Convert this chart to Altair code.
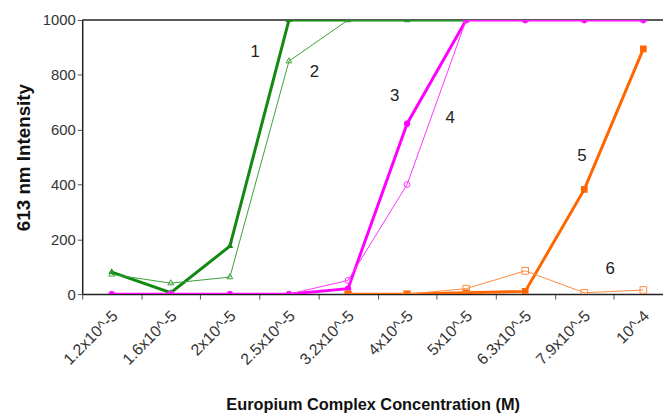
import altair as alt
import pandas as pd

labels = ["1.2x10^-5", "1.6x10^-5", "2x10^-5", "2.5x10^-5", "3.2x10^-5",
          "4x10^-5", "5x10^-5", "6.3x10^-5", "7.9x10^-5", "10^-4"]

s1 = [80, 5, 175, 1000, 1000, 1000, 1000]
s2 = [72, 40, 62, 850, 1000, 1000, 1000, 1000]
s3 = [0, 0, 0, 0, 20, 622, 1000, 1000, 1000, 1000]
s4 = [0, 0, 0, 0, 50, 400, 1000, 1000, 1000, 1000]
s5_start = 4
s5 = [0, 0, 5, 10, 382, 895]
s6 = [0, 0, 20, 85, 5, 15]

ann_text = ["1", "2", "3", "4", "5", "6"]
ann_x = [2.43, 3.43, 4.79, 5.73, 7.96, 8.44]
ann_y = [884, 812, 722, 643, 505, 90]

series = [
    ("1", s1, 0, "#128a12", 3, "triangle", True, 45),
    ("2", s2, 0, "#3aa03a", 1, "triangle", False, 35),
    ("3", s3, 0, "#ff00ff", 3, "circle", True, 40),
    ("4", s4, 0, "#ff33ff", 1, "circle", False, 35),
    ("5", s5, s5_start, "#ff6600", 3, "square", True, 45),
    ("6", s6, s5_start, "#ff8a3d", 1, "square", False, 45),
]

W = 587
H = 277
band = 59.7
xmax = -0.5 + W / band

xscale = alt.Scale(domain=[-0.5, xmax], nice=False, zero=False)
yscale = alt.Scale(domain=[0, 1000], nice=False)

label_js = "[" + ",".join("'" + l + "'" for l in labels) + "]"
xaxis = alt.Axis(
    values=[i - 0.5 for i in range(10)],
    labelExpr=label_js + "[round(datum.value + 0.5)] || ''",
    labelOffset=band / 2 + 3,
    labelAngle=-45,
    labelAlign="right",
    labelBaseline="middle",
    labelFontSize=16,
    labelColor="#333333",
    labelFont="Liberation Sans",
    labelPadding=14,
    labelFlush=False,
    labelOverlap=False,
    labelBound=False,
    tickSize=5,
    tickColor="#555555",
    domainColor="#222222",
    domainWidth=1.5,
    grid=False,
    title="Europium Complex Concentration (M)",
    titleFont="Liberation Sans",
    titleFontSize=16.5,
    titleFontWeight="bold",
    titleColor="#111111",
    titlePadding=30,
)
yaxis = alt.Axis(
    values=[0, 200, 400, 600, 800, 1000],
    format="d",
    labelFontSize=15,
    labelColor="#333333",
    labelFont="Liberation Sans",
    tickSize=5,
    tickColor="#555555",
    domainColor="#222222",
    domainWidth=1.5,
    grid=False,
    title="613 nm Intensity",
    titleFont="Liberation Sans",
    titleFontSize=19,
    titleFontWeight="bold",
    titleColor="#111111",
    titlePadding=9,
)

layers = []
first = True
for name, vals, start, color, width, shape, filled, size in series:
    df = pd.DataFrame({"x": list(range(start, start + len(vals))), "y": vals})
    if first:
        enc_x = alt.X("x:Q", scale=xscale, axis=xaxis)
        enc_y = alt.Y("y:Q", scale=yscale, axis=yaxis)
    else:
        enc_x = alt.X("x:Q")
        enc_y = alt.Y("y:Q")
    first = False
    line = alt.Chart(df).mark_line(color=color, strokeWidth=width, clip=True).encode(x=enc_x, y=enc_y)
    pts = alt.Chart(df).mark_point(
        shape=shape, filled=filled, color=color, size=size,
        strokeWidth=1, opacity=1, clip=True
    ).encode(x="x:Q", y="y:Q")
    layers += [line, pts]

ann = pd.DataFrame({"t": ann_text, "x": ann_x, "y": ann_y})
text = alt.Chart(ann).mark_text(fontSize=17, font="Liberation Sans", color="#222222").encode(
    x="x:Q", y="y:Q", text="t:N"
)
layers.append(text)

top_line = alt.Chart(pd.DataFrame({"a": [0]})).mark_rule(color="#222222", strokeWidth=1.5).encode(
    x=alt.value(0), x2=alt.value(W), y=alt.value(0)
)
layers.insert(0, top_line)

chart = alt.layer(*layers).properties(
    width=W, height=H,
    background="white",
    autosize=alt.AutoSizeParams(type="none"),
    padding={"left": 75, "top": 10, "right": 0, "bottom": 120},
).configure_view(stroke=None)

chart.save("out.html", embed_options={"renderer": "svg", "actions": False})
